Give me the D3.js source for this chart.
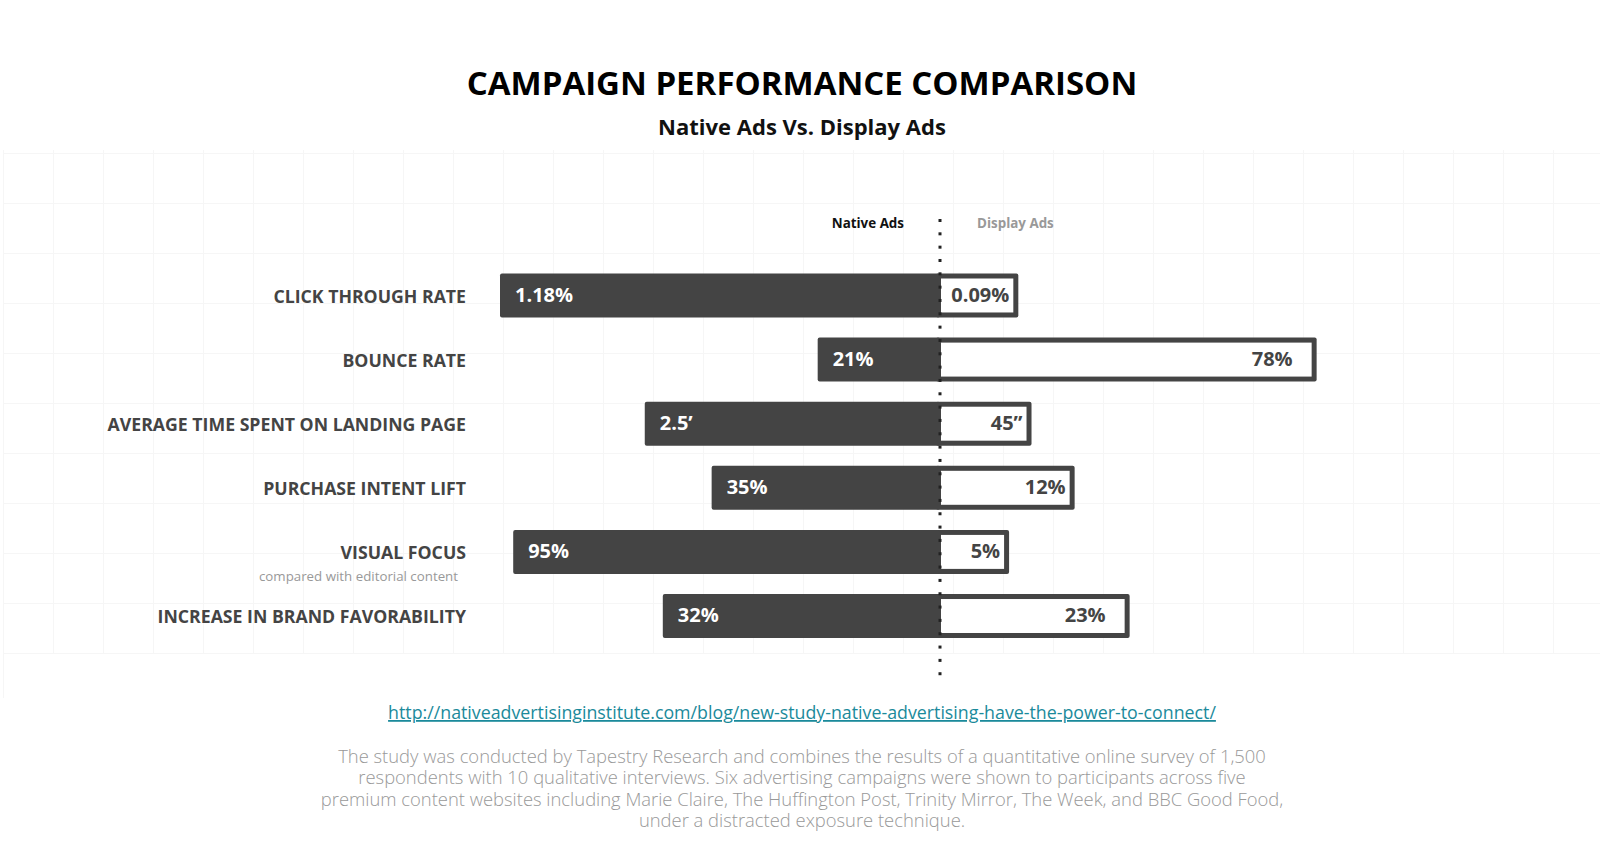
<!DOCTYPE html>
<html>
<head>
<meta charset="utf-8">
<script src="https://cdn.jsdelivr.net/npm/d3@7"></script>
<style>
  body { margin: 0; background: #fff; }
  svg { display: block; font-family: "Open Sans", sans-serif; }
</style>
</head>
<body>
<svg id="chart" width="1600" height="848"></svg>
<script>
// categories and value labels
const categories = ["CLICK THROUGH RATE", "BOUNCE RATE", "AVERAGE TIME SPENT ON LANDING PAGE",
    "PURCHASE INTENT LIFT", "VISUAL FOCUS", "INCREASE IN BRAND FAVORABILITY"];
const notes = ["", "", "", "", "compared with editorial content", ""];
const nativeLabels = ["1.18%", "21%", "2.5\u2019", "35%", "95%", "32%"];
const displayLabels = ["0.09%", "78%", "45\u201D", "12%", "5%", "23%"];
// bar lengths as drawn in the infographic (index, longest native bar = 100)
const nativeLength = [100, 27.8, 67.1, 51.9, 97.0, 63.0];
const displayLength = [17.8, 85.6, 20.8, 30.6, 15.7, 43.1];
const footerLines = [
    "The study was conducted by Tapestry Research and combines the results of a quantitative online survey of 1,500",
    "respondents with 10 qualitative interviews. Six advertising campaigns were shown to participants across five",
    "premium content websites including Marie Claire, The Huffington Post, Trinity Mirror, The Week, and BBC Good Food,",
    "under a distracted exposure technique."
];

const W = 1600, H = 848, cx = 940, midX = 802;
const dark = "#444444";
const svg = d3.select("#chart");

// faint background grid
let grid = svg.append("g").attr("stroke", "#f6f6f6").attr("stroke-width", 1);
grid.selectAll(".gv").data(d3.range(3, W, 50)).join("line")
    .attr("x1", d => d + .5).attr("x2", d => d + .5).attr("y1", 150).attr("y2", 653);
grid.selectAll(".gh").data(d3.range(153, 660, 50)).join("line")
    .attr("x1", 3).attr("x2", W).attr("y1", d => d + .5).attr("y2", d => d + .5);
grid.append("line").attr("x1", 3.5).attr("x2", 3.5).attr("y1", 653).attr("y2", 698);

svg.append("text").attr("x", midX).attr("y", 95).attr("text-anchor", "middle")
    .attr("font-size", 33).attr("font-weight", 700).attr("fill", "#000")
    .text("CAMPAIGN PERFORMANCE COMPARISON");
svg.append("text").attr("x", midX).attr("y", 135).attr("text-anchor", "middle")
    .attr("font-size", 22).attr("font-weight", 700).attr("fill", "#111")
    .text("Native Ads Vs. Display Ads");

// legend
svg.append("text").attr("x", 904).attr("y", 228).attr("text-anchor", "end")
    .attr("font-size", 13.4).attr("font-weight", 700).attr("fill", "#111").text("Native Ads");
svg.append("text").attr("x", 977).attr("y", 228)
    .attr("font-size", 13.4).attr("font-weight", 700).attr("fill", "#999").text("Display Ads");

let y = d3.scaleBand().domain(d3.range(categories.length)).range([273.5, 638]).paddingInner(0.314).paddingOuter(0);
let x = d3.scaleLinear().domain([0, 100]).range([0, 440]);
const bh = y.bandwidth();

let rows = svg.selectAll(".row").data(categories).join("g")
    .attr("class", "row")
    .attr("transform", (d, i) => "translate(0," + y(i) + ")");

// display bar: dark frame with white inside
rows.append("rect")
    .attr("x", cx - 4).attr("y", 0).attr("rx", 2)
    .attr("width", (d, i) => x(displayLength[i]) + 4).attr("height", bh)
    .attr("fill", dark);
rows.append("rect")
    .attr("x", cx + 1).attr("y", 5)
    .attr("width", (d, i) => x(displayLength[i]) - 6).attr("height", bh - 10)
    .attr("fill", "#fff");
// native bar
rows.append("rect")
    .attr("x", (d, i) => cx - x(nativeLength[i])).attr("y", 0).attr("rx", 2)
    .attr("width", (d, i) => x(nativeLength[i])).attr("height", bh)
    .attr("fill", dark);

rows.append("text")
    .attr("x", (d, i) => cx - x(nativeLength[i]) + 15).attr("y", bh / 2 - 1).attr("dy", "0.36em")
    .attr("font-size", 20).attr("font-weight", 700).attr("fill", "#fff")
    .text((d, i) => nativeLabels[i]);
rows.append("text")
    .attr("x", (d, i) => cx + x(displayLength[i]) - (x(displayLength[i]) > 150 ? 24 : 9))
    .attr("y", bh / 2 - 1).attr("dy", "0.36em")
    .attr("text-anchor", "end")
    .attr("font-size", 20).attr("font-weight", 700).attr("fill", dark)
    .text((d, i) => displayLabels[i]);

rows.append("text")
    .attr("x", 466).attr("y", bh / 2 + 1).attr("dy", "0.36em").attr("text-anchor", "end")
    .attr("font-size", 17.7).attr("font-weight", 700).attr("fill", dark)
    .text(d => d);
rows.append("text")
    .attr("x", 458).attr("y", bh / 2 + 29).attr("text-anchor", "end")
    .attr("font-size", 13.3).attr("fill", "#999")
    .text((d, i) => notes[i]);

// dotted centre line
svg.append("g").selectAll("rect").data(d3.range(219, 676, 13.33)).join("rect")
    .attr("x", cx - 1.5).attr("y", d => d).attr("width", 3).attr("height", 3)
    .attr("fill", "#222");

svg.append("text").attr("x", midX).attr("y", 719).attr("text-anchor", "middle")
    .attr("font-size", 17.8).attr("fill", "#1b8a9b").attr("text-decoration", "underline")
    .text("http://nativeadvertisinginstitute.com/blog/new-study-native-advertising-have-the-power-to-connect/");

// footer paragraph: one text block, one tspan per line
svg.append("text").attr("text-anchor", "middle")
    .attr("font-size", 18.4).attr("font-weight", 300).attr("fill", "#999")
    .selectAll("tspan").data(footerLines).join("tspan")
    .attr("x", midX).attr("y", (d, i) => 763 + i * 21.4)
    .text(d => d);
</script>
</body>
</html>
